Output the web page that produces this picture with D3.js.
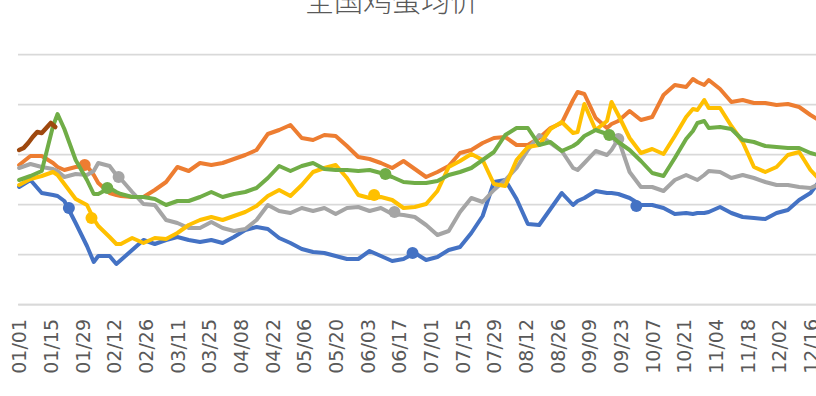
<!DOCTYPE html>
<html>
<head>
<meta charset="utf-8">
<script src="https://cdn.jsdelivr.net/npm/d3@7/dist/d3.min.js"></script>
<style>
  body { margin: 0; background: #fff; }
  svg { display: block; }
</style>
</head>
<body>
<svg id="chart" width="816" height="396"></svg>
<script>
// day of year (0 = 01/01) for every sampled point
const days = [0, 5, 10, 15, 17, 20, 25, 30, 33, 35,
    40, 43, 45, 50, 55, 60, 65, 70, 75, 80,
    85, 90, 95, 100, 105, 110, 115, 120, 125, 130,
    135, 140, 145, 150, 155, 160, 165, 170, 175, 180,
    185, 190, 195, 200, 205, 210, 215, 220, 225, 230,
    235, 240, 245, 247, 250, 255, 260, 262, 265, 270,
    275, 280, 285, 290, 295, 298, 300, 303, 305, 310,
    315, 320, 325, 330, 335, 340, 345, 350, 355];

const blueVals = [367, 374, 361, 359, 358, 353, 331, 308, 292, 298,
    298, 290, 294, 304, 314, 310, 314, 317, 314, 312,
    314, 311, 317, 324, 327, 325, 316, 311, 305, 302,
    301, 298, 295, 295, 303, 298, 293, 295, 301, 294,
    297, 304, 307, 321, 338, 372, 374, 355, 330, 329,
    345, 361, 349, 353, 356, 363, 361, 361, 360, 356,
    349, 349, 346, 340, 341, 340, 341, 341, 342, 347,
    341, 337, 336, 335, 341, 344, 354, 361, 376];

const orangeVals = [389, 398, 398, 391, 387, 384, 387, 388, 379, 371,
    361, 359, 358, 357, 357, 364, 372, 387, 383, 391,
    389, 391, 395, 399, 404, 420, 424, 429, 416, 414,
    419, 418, 408, 397, 395, 391, 386, 393, 385, 377,
    382, 388, 401, 404, 411, 416, 417, 409, 409, 416,
    426, 431, 454, 462, 460, 436, 426, 430, 433, 443,
    434, 437, 459, 469, 467, 475, 472, 469, 474, 465,
    452, 454, 451, 451, 449, 450, 447, 439, 432];

const grayVals = [386, 390, 387, 385, 383, 377, 380, 379, 383, 391,
    388, 379, 375, 362, 350, 349, 334, 331, 326, 326,
    332, 326, 323, 325, 334, 349, 343, 341, 346, 343,
    346, 340, 346, 347, 343, 346, 340, 339, 337, 329,
    319, 323, 342, 356, 352, 364, 374, 386, 404, 419,
    411, 403, 386, 384, 391, 403, 399, 404, 415, 382,
    367, 367, 363, 374, 379, 376, 374, 379, 383, 382,
    376, 379, 376, 372, 369, 369, 367, 366, 371];

const yellowVals = [369, 375, 378, 382, 379, 370, 355, 349, 335, 328,
    317, 310, 310, 316, 311, 316, 315, 321, 329, 334,
    337, 334, 338, 342, 348, 358, 364, 358, 369, 382,
    386, 389, 376, 359, 356, 357, 354, 346, 347, 350,
    363, 387, 393, 400, 394, 370, 368, 394, 407, 409,
    425, 432, 421, 422, 450, 424, 433, 452, 439, 416,
    401, 405, 400, 418, 437, 445, 444, 454, 446, 446,
    428, 412, 387, 382, 387, 399, 402, 384, 372];

const greenVals = [374, 378, 383, 428, 440, 425, 394, 374, 360, 360,
    366, 362, 360, 357, 357, 355, 349, 353, 353, 357,
    362, 357, 360, 362, 366, 376, 388, 383, 388, 391,
    385, 384, 384, 383, 384, 381, 377, 372, 371, 371,
    373, 379, 382, 386, 394, 402, 419, 426, 426, 409,
    412, 403, 408, 411, 418, 424, 420, 418, 412, 404,
    393, 381, 378, 396, 415, 423, 431, 433, 426, 427,
    425, 414, 412, 408, 407, 406, 406, 401, 398];

// the short current-year line
const brownDays = [0, 2, 4, 6, 8, 10, 12, 14, 16];
const brownVals = [404, 406, 411, 417, 422, 421, 426, 431, 427];

// holiday markers: [day, value]
const blueMarks = [[22, 346], [174, 301], [273, 348]];
const orangeMarks = [[29, 389]];
const grayMarks = [[44, 377], [166, 342], [265, 415]];
const yellowMarks = [[32, 336], [157, 359]];
const greenMarks = [[39, 366], [162, 380], [261, 419]];

const tickLabels = ["01/01", "01/15", "01/29", "02/12", "02/26", "03/11", "03/25",
    "04/08", "04/22", "05/06", "05/20", "06/03", "06/17", "07/01", "07/15",
    "07/29", "08/12", "08/26", "09/09", "09/23", "10/07", "10/21", "11/04",
    "11/18", "12/02", "12/16"];
const yTicks = [250, 300, 350, 400, 450, 500];

const title = "全国鸡蛋均价";

const series = [
    {name: "blue", color: "#4472C4", days: days, vals: blueVals, marks: blueMarks},
    {name: "orange", color: "#ED7D31", days: days, vals: orangeVals, marks: orangeMarks},
    {name: "gray", color: "#A5A5A5", days: days, vals: grayVals, marks: grayMarks},
    {name: "yellow", color: "#FFC000", days: days, vals: yellowVals, marks: yellowMarks},
    {name: "green", color: "#70AD47", days: days, vals: greenVals, marks: greenMarks},
    {name: "brown", color: "#9E480E", days: brownDays, vals: brownVals, marks: []}
];

const svg = d3.select("#chart");
const plotLeft = 18, plotBottom = 304, plotTop = 54;
const dayWidth = 2.261;

const x = d3.scaleLinear()
    .domain([-0.5, 365.5])
    .range([plotLeft, plotLeft + 366 * dayWidth]);
const y = d3.scaleLinear()
    .domain([250, 500])
    .range([plotBottom, plotTop]);

// gridlines
svg.append("g")
    .attr("transform", `translate(${plotLeft},0)`)
    .call(d3.axisLeft(y).tickValues(yTicks).tickSize(-(x.range()[1] - plotLeft)).tickFormat(""))
    .call(g => g.select(".domain").remove())
    .call(g => g.selectAll("line").attr("stroke", "#D9D9D9").attr("stroke-width", 1.75));

// category axis
const xAxis = svg.append("g")
    .attr("transform", `translate(0,${plotBottom})`)
    .call(d3.axisBottom(x)
        .tickValues(tickLabels.map((d, i) => i * 14))
        .tickSize(0)
        .tickFormat((d, i) => tickLabels[i]));
xAxis.select(".domain").attr("stroke", "#D9D9D9").attr("stroke-width", 1.75);
xAxis.selectAll("text")
    .attr("transform", "rotate(-90)")
    .attr("x", -15)
    .attr("y", 0)
    .attr("dy", "0.36em")
    .attr("text-anchor", "end")
    .attr("fill", "#595959")
    .style("font-family", "'DejaVu Sans', sans-serif")
    .style("font-size", "19px");

const line = d3.line()
    .x(d => x(d[0]))
    .y(d => y(d[1]));

series.forEach(s => {
    const pts = s.days.map((d, i) => [d, s.vals[i]]);
    svg.append("path")
        .datum(pts)
        .attr("fill", "none")
        .attr("stroke", s.color)
        .attr("stroke-width", s.name === "brown" ? 4.5 : 4)
        .attr("stroke-linejoin", "round")
        .attr("stroke-linecap", "round")
        .attr("d", line);
    svg.selectAll(null)
        .data(s.marks)
        .enter()
        .append("circle")
        .attr("cx", d => x(d[0]))
        .attr("cy", d => y(d[1]))
        .attr("r", 6)
        .attr("fill", s.color);
});

svg.append("text")
    .attr("x", 392)
    .attr("y", 12)
    .attr("text-anchor", "middle")
    .attr("fill", "#595959")
    .style("font-family", "'Noto Sans CJK SC', sans-serif")
    .style("font-weight", 300)
    .style("font-size", "29px")
    .text(title);
</script>
</body>
</html>
